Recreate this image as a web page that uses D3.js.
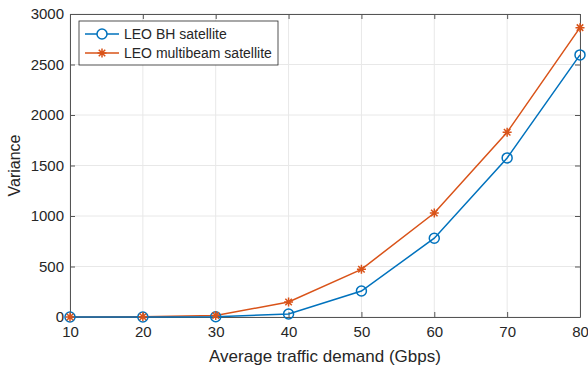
<!DOCTYPE html>
<html>
<head>
<meta charset="utf-8">
<script src="https://cdn.jsdelivr.net/npm/d3@7"></script>
<style>
  body { margin: 0; background: #fff; }
  svg text { font-family: "Liberation Sans", Arial, sans-serif; fill: #262626; }
</style>
</head>
<body>
<svg id="chart" width="588" height="370"></svg>
<script>
// data
var demand = [10, 20, 30, 40, 50, 60, 70, 80];
var bhVariance = [0, 0, 3, 30, 257, 780, 1575, 2595];
var multibeamVariance = [0, 2, 15, 148, 472, 1030, 1830, 2865];
var xTicks = [10, 20, 30, 40, 50, 60, 70, 80];
var yTicks = [0, 500, 1000, 1500, 2000, 2500, 3000];
var seriesNames = ['LEO BH satellite', 'LEO multibeam satellite'];

var svg = d3.select('svg#chart'),
    margin = {top: 14, right: 8, bottom: 53, left: 70},
    width = 588 - margin.left - margin.right,
    height = 370 - margin.top - margin.bottom,
    g = svg.append('g').attr('transform', 'translate(' + margin.left + ',' + margin.top + ')');

var x = d3.scaleLinear().domain([10, 80]).range([0, width]);
var y = d3.scaleLinear().domain([0, 3000]).range([height, 0]);

// grid
g.append('g').selectAll('line').data(xTicks).enter().append('line')
    .attr('x1', d => x(d)).attr('x2', d => x(d))
    .attr('y1', 0).attr('y2', height)
    .attr('stroke', '#e8e8e8');
g.append('g').selectAll('line').data(yTicks).enter().append('line')
    .attr('y1', d => y(d)).attr('y2', d => y(d))
    .attr('x1', 0).attr('x2', width)
    .attr('stroke', '#e8e8e8');

// axes, ticks pointing inward like matlab
var axisColor = '#555';
function styleAxis(sel) {
    sel.select('.domain').attr('stroke', axisColor);
    sel.selectAll('.tick line').attr('stroke', axisColor);
    sel.selectAll('.tick text').style('font-size', '15px').attr('fill', '#333');
}
var fmt = d3.format('d');
g.append('g').attr('transform', 'translate(0,' + height + ')')
    .call(d3.axisBottom(x).tickValues(xTicks).tickFormat(fmt).tickSizeInner(-5).tickSizeOuter(0).tickPadding(9))
    .call(styleAxis);
g.append('g')
    .call(d3.axisLeft(y).tickValues(yTicks).tickFormat(fmt).tickSizeInner(-5).tickSizeOuter(0).tickPadding(6))
    .call(styleAxis);
g.append('g')
    .call(d3.axisTop(x).tickValues(xTicks).tickSizeInner(-5).tickSizeOuter(0).tickFormat(''))
    .call(styleAxis);
g.append('g').attr('transform', 'translate(' + width + ',0)')
    .call(d3.axisRight(y).tickValues(yTicks).tickSizeInner(-5).tickSizeOuter(0).tickFormat(''))
    .call(styleAxis);

// lines
var colors = ['#0072BD', '#D95319'];
var line = d3.line().x(d => x(d[0])).y(d => y(d[1]));
var bhPts = demand.map((d, i) => [d, bhVariance[i]]);
var mbPts = demand.map((d, i) => [d, multibeamVariance[i]]);

g.append('path').datum(mbPts).attr('d', line)
    .attr('fill', 'none').attr('stroke', colors[1]).attr('stroke-width', 1.5);
g.append('path').datum(bhPts).attr('d', line)
    .attr('fill', 'none').attr('stroke', colors[0]).attr('stroke-width', 1.5);

// matlab style '*' marker: a plus and a cross
function drawStar(sel) {
    var r = 4.5, c = r * 0.72;
    sel.append('path')
        .attr('d', 'M' + (-r) + ',0L' + r + ',0M0,' + (-r) + 'L0,' + r +
                   'M' + (-c) + ',' + (-c) + 'L' + c + ',' + c + 'M' + (-c) + ',' + c + 'L' + c + ',' + (-c))
        .attr('fill', 'none').attr('stroke', colors[1]).attr('stroke-width', 1.5);
}

g.selectAll('.bh').data(bhPts).enter().append('circle')
    .attr('cx', d => x(d[0])).attr('cy', d => y(d[1])).attr('r', 5)
    .attr('fill', 'none').attr('stroke', colors[0]).attr('stroke-width', 1.5);
g.selectAll('.mb').data(mbPts).enter().append('g')
    .attr('transform', d => 'translate(' + x(d[0]) + ',' + y(d[1]) + ')')
    .call(drawStar);

// axis labels
svg.append('text')
    .attr('x', margin.left + width / 2 - 0).attr('y', 362)
    .attr('text-anchor', 'middle').style('font-size', '17px')
    .text('Average traffic demand (Gbps)');
svg.append('text')
    .attr('transform', 'translate(20,' + (margin.top + height / 2) + ') rotate(-90)')
    .attr('text-anchor', 'middle').style('font-size', '16px')
    .text('Variance');

// legend
var lg = g.append('g').attr('transform', 'translate(9,7)');
lg.append('rect').attr('width', 199).attr('height', 44)
    .attr('fill', '#fff').attr('stroke', '#262626').attr('stroke-width', 0.8);
seriesNames.forEach(function(name, i) {
    var ly = 13 + i * 19;
    lg.append('line').attr('x1', 6).attr('x2', 40).attr('y1', ly).attr('y2', ly)
        .attr('stroke', colors[i]).attr('stroke-width', 1.5);
    if (i === 0) {
        lg.append('circle').attr('cx', 23).attr('cy', ly).attr('r', 5)
            .attr('fill', '#fff').attr('stroke', colors[0]).attr('stroke-width', 1.5);
    } else {
        lg.append('g').attr('transform', 'translate(23,' + ly + ')').call(drawStar);
    }
    lg.append('text').attr('x', 45).attr('y', ly + 5)
        .style('font-size', '14px').text(name);
});
</script>
</body>
</html>
